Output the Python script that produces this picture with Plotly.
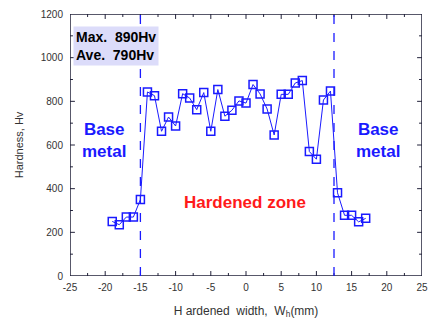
import plotly.graph_objects as go

width_mm = [-19, -18, -17, -16, -15, -14, -13, -12, -11, -10, -9, -8, -7, -6, -5, -4, -3, -2, -1,
            0, 1, 2, 3, 4, 5, 6, 7, 8, 9, 10, 11, 12, 13, 14, 15, 16, 17]
hardness = [250, 235, 270, 270, 350, 843, 826, 663, 728, 687, 835, 815, 762, 840, 663, 854, 732, 759, 802,
            792, 877, 834, 765, 646, 832, 832, 884, 895, 570, 535, 806, 847, 381, 278, 278, 248, 264]
zone_bounds = [-15, 12.5]
x_ticks = [-25, -20, -15, -10, -5, 0, 5, 10, 15, 20, 25]
y_ticks = [0, 200, 400, 600, 800, 1000, 1200]

BLUE = "#1a1aff"
INK = "#22223a"
FONT = "Arial, Liberation Sans, sans-serif"

W, H = 436, 323
ML, MR, MT, MB = 70, 8, 13, 47
x_lo, x_hi = x_ticks[0], x_ticks[-1]
y_lo, y_hi = y_ticks[0], y_ticks[-1]
ux = (x_hi - x_lo) / (W - ML - MR)   # data units per pixel
uy = (y_hi - y_lo) / (H - MT - MB)

fig = go.Figure()

# frame
fig.add_trace(go.Scatter(x=[x_lo, x_hi, x_hi, x_lo, x_lo], y=[y_lo, y_lo, y_hi, y_hi, y_lo],
                         mode="lines", line=dict(color=INK, width=1.5), hoverinfo="skip",
                         showlegend=False, cliponaxis=False))

# inside ticks on all four sides
tx, ty = [], []
minor_x = [(a + b) / 2 for a, b in zip(x_ticks[:-1], x_ticks[1:])]
minor_y = [(a + b) / 2 for a, b in zip(y_ticks[:-1], y_ticks[1:])]
for vals, px in ((x_ticks[1:-1], 5), (minor_x, 3)):
    for v in vals:
        tx += [v, v, None, v, v, None]
        ty += [y_lo, y_lo + px * uy, None, y_hi, y_hi - px * uy, None]
for vals, px in ((y_ticks[1:-1], 5), (minor_y, 3)):
    for v in vals:
        tx += [x_lo, x_lo + px * ux, None, x_hi, x_hi - px * ux, None]
        ty += [v, v, None, v, v, None]
fig.add_trace(go.Scatter(x=tx, y=ty, mode="lines", line=dict(color=INK, width=1),
                         hoverinfo="skip", showlegend=False, connectgaps=False))

# zone boundaries
for xb in zone_bounds:
    fig.add_shape(type="line", x0=xb, x1=xb, y0=0, y1=1, xref="x", yref="paper",
                  line=dict(color=BLUE, width=1.3, dash="dash"))

# data
fig.add_trace(go.Scatter(
    x=width_mm, y=hardness, mode="lines+markers",
    line=dict(color=BLUE, width=1),
    marker=dict(symbol="square-open", size=8, color=BLUE, line=dict(width=1.5, color=BLUE)),
    showlegend=False,
))

fig.add_annotation(x=0.008, y=0.955, xref="paper", yref="paper", xanchor="left", yanchor="top",
                   text="<b>Max.  890Hv<br>Ave.  790Hv</b>", showarrow=False, align="left",
                   bgcolor="#dcdcfa", font=dict(family=FONT, size=14, color="black"),
                   borderpad=2)
fig.add_annotation(x=-20.2, y=620, text="<b>Base<br>metal</b>", showarrow=False,
                   font=dict(family=FONT, size=17, color=BLUE), align="center")
fig.add_annotation(x=18.8, y=620, text="<b>Base<br>metal</b>", showarrow=False,
                   font=dict(family=FONT, size=17, color=BLUE), align="center")
fig.add_annotation(x=-0.2, y=338, text="<b>Hardened zone</b>", showarrow=False,
                   font=dict(family=FONT, size=17, color="#ff1a1a"))

axis_common = dict(ticks="", showline=False, showgrid=False, zeroline=False)

fig.update_xaxes(range=[x_lo, x_hi], tickmode="array",
                 tickvals=x_ticks, ticktext=[str(v) for v in x_ticks],
                 tickfont=dict(family=FONT, size=10, color="#333333"), ticklabelstandoff=4,
                 title=dict(text="H ardened  width,  W<sub>h</sub>(mm)", standoff=14,
                            font=dict(family=FONT, size=12, color="#333333")),
                 **axis_common)
fig.update_yaxes(range=[y_lo, y_hi], tickmode="array",
                 tickvals=y_ticks, ticktext=[str(v) for v in y_ticks],
                 tickfont=dict(family=FONT, size=10, color="#333333"), ticklabelstandoff=6,
                 title=dict(text="Hardness, Hv", standoff=14,
                            font=dict(family=FONT, size=11, color="#333333")),
                 **axis_common)

fig.update_layout(width=W, height=H, margin=dict(l=ML, r=MR, t=MT, b=MB),
                  paper_bgcolor="white", plot_bgcolor="white")

post = "document.body.style.margin='0';"
fig.write_html("out.html", post_script=post, config={"displayModeBar": False})
